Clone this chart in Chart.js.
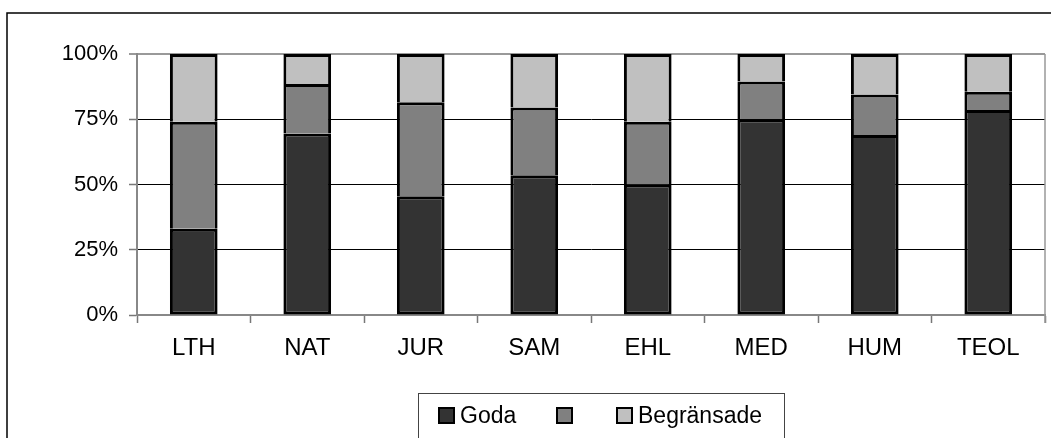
<!DOCTYPE html>
<html lang="sv">
<head>
  <meta charset="UTF-8">
  <title>Fördelning per fakultet</title>
  <script src="https://cdn.jsdelivr.net/npm/chart.js"></script>
  <style>
    html, body { margin: 0; padding: 0; background: #fff; }
    #wrap { width: 1051px; height: 438px; }
  </style>
</head>
<body>
  <div id="wrap"><canvas id="chart" width="1051" height="438"></canvas></div>

  <script>
    // Data (procent av varje stapel)
    const faculties = ["LTH", "NAT", "JUR", "SAM", "EHL", "MED", "HUM", "TEOL"];
    const goda = [33, 69.5, 45.5, 53.5, 50, 75, 69, 78.5];
    const mellan = [41, 19, 36, 26, 24, 14.5, 15.5, 7];
    const begransade = [26, 11.5, 18.5, 20.5, 26, 10.5, 15.5, 14.5];
    const yTicks = [0, 25, 50, 75, 100];

    const seriesNames = ["Goda", "", "Begränsade"];
    const seriesColors = ["#333333", "#808080", "#c0c0c0"];
    const FONT = "'Liberation Sans', Arial, sans-serif";

    // ram runt hela diagrammet + legendruta + högerkant på ritytan
    const framePlugin = {
      id: "frame",
      beforeDraw(chart) {
        const ctx = chart.ctx;
        ctx.save();
        ctx.fillStyle = "#fff";
        ctx.fillRect(0, 0, chart.width, chart.height);
        ctx.strokeStyle = "#000";
        ctx.lineWidth = 1.5;
        ctx.beginPath();
        ctx.moveTo(7, chart.height + 5);
        ctx.lineTo(7, 13);
        ctx.lineTo(chart.width + 5, 13);
        ctx.stroke();
        ctx.restore();
      },
      afterDraw(chart) {
        const ctx = chart.ctx;
        const a = chart.chartArea;
        ctx.save();
        ctx.strokeStyle = "#999";
        ctx.lineWidth = 1.5;
        ctx.beginPath();
        ctx.moveTo(a.right, a.top);
        ctx.lineTo(a.right, a.bottom + 8);
        ctx.stroke();

        // legend
        ctx.strokeStyle = "#444";
        ctx.lineWidth = 1;
        ctx.strokeRect(418.5, 393.5, 366, 60);
        const boxes = [439, 557, 617];
        ctx.font = "23px " + FONT;
        ctx.textBaseline = "alphabetic";
        seriesNames.forEach((name, i) => {
          ctx.fillStyle = seriesColors[i];
          ctx.fillRect(boxes[i], 408, 15, 15);
          ctx.strokeStyle = "#000";
          ctx.lineWidth = 2;
          ctx.strokeRect(boxes[i], 408, 15, 15);
          ctx.fillStyle = "#000";
          ctx.fillText(name, boxes[i] + 21, 423);
        });
        ctx.restore();
      }
    };

    const values = [goda, mellan, begransade];
    new Chart(document.getElementById("chart"), {
      type: "bar",
      data: {
        labels: faculties,
        datasets: values.map((v, i) => ({
          label: seriesNames[i],
          data: v,
          backgroundColor: seriesColors[i],
          borderColor: "#000",
          borderWidth: { left: 3, right: 3, top: 3, bottom: i === 0 ? 3 : 0 },
          borderSkipped: false,
          inflateAmount: 0,
          categoryPercentage: 1,
          barPercentage: 0.42
        }))
      },
      options: {
        responsive: false,
        animation: false,
        layout: { padding: { left: 0, top: 54, right: 6, bottom: 0 } },
        plugins: { legend: { display: false }, tooltip: { enabled: false } },
        scales: {
          x: {
            stacked: true,
            afterFit: s => { s.height = 123; },
            grid: {
              drawOnChartArea: false,
              tickLength: 8,
              tickColor: "#777",
              tickWidth: 1.5
            },
            border: { color: "#888", width: 2 },
            ticks: { color: "#000", padding: 11, font: { family: FONT, size: 24 } }
          },
          y: {
            stacked: true,
            min: 0,
            max: 100,
            afterFit: s => { s.width = 137; },
            afterBuildTicks: s => { s.ticks = yTicks.map(v => ({ value: v })); },
            grid: {
              color: c => (c.tick && c.tick.value === 100 ? "#999" : "#000"),
              lineWidth: c => (c.tick && c.tick.value === 100 ? 2 : 1),
              tickLength: 8,
              tickColor: "#777",
              tickWidth: 1.5
            },
            border: { color: "#888", width: 2 },
            ticks: {
              color: "#000",
              padding: 11,
              font: { family: FONT, size: 22 },
              callback: v => v + "%"
            }
          }
        }
      },
      plugins: [framePlugin]
    });
  </script>
</body>
</html>
